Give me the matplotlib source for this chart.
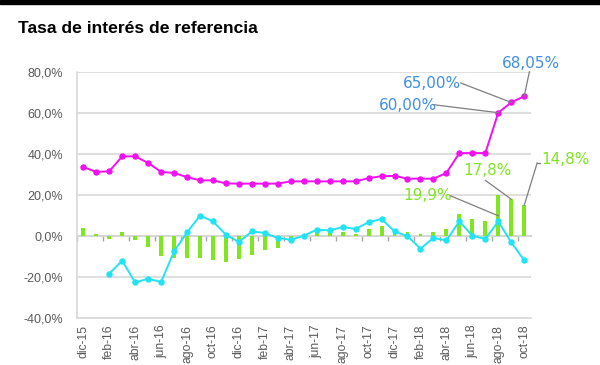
import matplotlib
matplotlib.use("Agg")
import matplotlib.pyplot as plt
import numpy as np

# meses (uno por punto, etiqueta cada dos)
meses = ['dic-15', 'ene-16', 'feb-16', 'mar-16', 'abr-16', 'may-16', 'jun-16', 'jul-16',
         'ago-16', 'sep-16', 'oct-16', 'nov-16', 'dic-16', 'ene-17', 'feb-17', 'mar-17',
         'abr-17', 'may-17', 'jun-17', 'jul-17', 'ago-17', 'sep-17', 'oct-17', 'nov-17',
         'dic-17', 'ene-18', 'feb-18', 'mar-18', 'abr-18', 'may-18', 'jun-18', 'jul-18',
         'ago-18', 'sep-18', 'oct-18']

# tasa de referencia (magenta)
tasa = [33.5, 31.1, 31.4, 38.7, 38.7, 35.5, 31.1, 30.6, 28.6, 27.0, 27.0, 25.5,
        25.4, 25.4, 25.4, 25.4, 26.5, 26.5, 26.5, 26.5, 26.5, 26.5, 28.1, 29.0,
        29.2, 27.8, 27.8, 27.8, 30.6, 40.3, 40.3, 40.3, 60.0, 65.0, 68.05]

# serie celeste
celeste = [np.nan, np.nan, -18.5, -12.2, -22.8, -21.0, -22.6, -7.6, 1.6, 9.8, 7.0, 0.5,
           -3.1, 2.1, 1.3, -1.1, -2.0, 0.0, 2.9, 2.6, 4.2, 3.3, 6.6, 8.1,
           2.1, -0.3, -6.3, -1.1, -2.3, 7.0, 0.0, -1.6, 7.0, -3.3, -12.0]

# barras verdes
barras = [3.8, 0.8, -1.6, 2.0, -2.3, -5.5, -10.0, -10.8, -10.7, -10.9, -11.7, -12.9,
          -11.4, -9.4, -6.8, -6.0, -1.8, 0.3, 2.7, 2.4, 1.6, 0.8, 3.4, 4.9,
          3.1, 1.8, 1.0, 1.6, 3.5, 10.6, 8.2, 7.3, 19.9, 17.8, 14.8]

yticks = [-40, -20, 0, 20, 40, 60, 80]

MAGENTA = '#F010F0'
CELESTE = '#22E3F2'
VERDE = '#80E622'
AZUL = '#3F8FE6'
GRIS = '#595959'
GRILLA = '#D9D9D9'

x = np.arange(len(meses))

fig = plt.figure(figsize=(6, 3.65), dpi=100)
ax = fig.add_axes([0.128, 0.1296, 0.7565, 0.674])

ax.bar(x, barras, width=0.3, color=VERDE, zorder=2)
ax.plot(x, celeste, color=CELESTE, lw=1.4, marker='o', ms=3.6, zorder=3)
ax.plot(x, tasa, color=MAGENTA, lw=1.4, marker='o', ms=3.6, zorder=3)

ax.set_xlim(-0.5, len(meses) - 0.5)
ax.set_ylim(-40, 80)
ax.set_yticks(yticks)
ax.set_yticklabels([f"{v:.1f}%".replace('.', ',') for v in yticks],
                   fontsize=9, color=GRIS, family='Liberation Sans')
ax.tick_params(axis='y', length=0, pad=10)
ax.grid(axis='y', color=GRILLA, lw=1.2, zorder=0)
ax.set_axisbelow(True)

ax.set_xticks(x[::2])
ax.set_xticklabels(meses[::2], rotation=90, fontsize=8.7, color=GRIS,
                   family='Liberation Sans')
ax.tick_params(axis='x', length=0, pad=5)

for s in ['top', 'right']:
    ax.spines[s].set_visible(False)
ax.spines['left'].set_color(GRILLA)
ax.spines['bottom'].set_color(GRILLA)
ax.spines['left'].set_linewidth(1.2)
ax.spines['bottom'].set_linewidth(1.2)

# eje de categorias en 0 con marcas cada dos meses
sec = ax.secondary_xaxis(40 / 120)
sec.set_xticks(np.arange(-0.5, len(meses) - 1, 2))
sec.set_xticklabels([])
sec.tick_params(length=3.5, width=1, color='#A6A6A6', direction='out')
sec.spines['bottom'].set_color('#BFBFBF')
sec.spines['bottom'].set_linewidth(1.2)

# etiquetas con lineas guia
lab_tasa = [(32, '60,00%', (25.0, 63.6), (27.0, 63.9)),
            (33, '65,00%', (26.9, 74.1), (29.1, 74.5)),
            (34, '68,05%', (34.5, 84.2), (34.4, 80.0))]
for i, txt, pos, ini in lab_tasa:
    ax.text(pos[0], pos[1], txt, color=AZUL, fontsize=11, ha='center', va='center',
            family='DejaVu Sans', clip_on=False)
    ax.plot([ini[0], i], [ini[1], tasa[i]], color='#7F7F7F', lw=0.9, clip_on=False, zorder=4)

lab_barras = [(32, '19,9%', (26.55, 19.5), (28.3, 19.5), 9.7),
              (33, '17,8%', (31.2, 31.7), (31.0, 27.0), barras[33]),
              (34, '14,8%', (37.2, 37.1), (35.0, 35.5), barras[34])]
for i, txt, pos, ini, fin in lab_barras:
    ax.text(pos[0], pos[1], txt, color=VERDE, fontsize=11, ha='center', va='center',
            family='DejaVu Sans', clip_on=False)
    ax.plot([ini[0], i], [ini[1], fin], color='#7F7F7F', lw=0.9, clip_on=False, zorder=4)
ax.plot([35.0, 35.25], [35.5, 35.5], color='#7F7F7F', lw=0.9, clip_on=False)

fig.text(0.03, 1 - 33 / 365, 'Tasa de interés de referencia', fontsize=12.6,
         fontweight='bold', family='Liberation Sans', va='baseline', ha='left')

# barra negra superior
fig.patches.append(plt.Rectangle((0, 1 - 4 / 365), 1, 4 / 365, transform=fig.transFigure,
                                 color='black', zorder=5))

fig.savefig('out.png', dpi=100)
